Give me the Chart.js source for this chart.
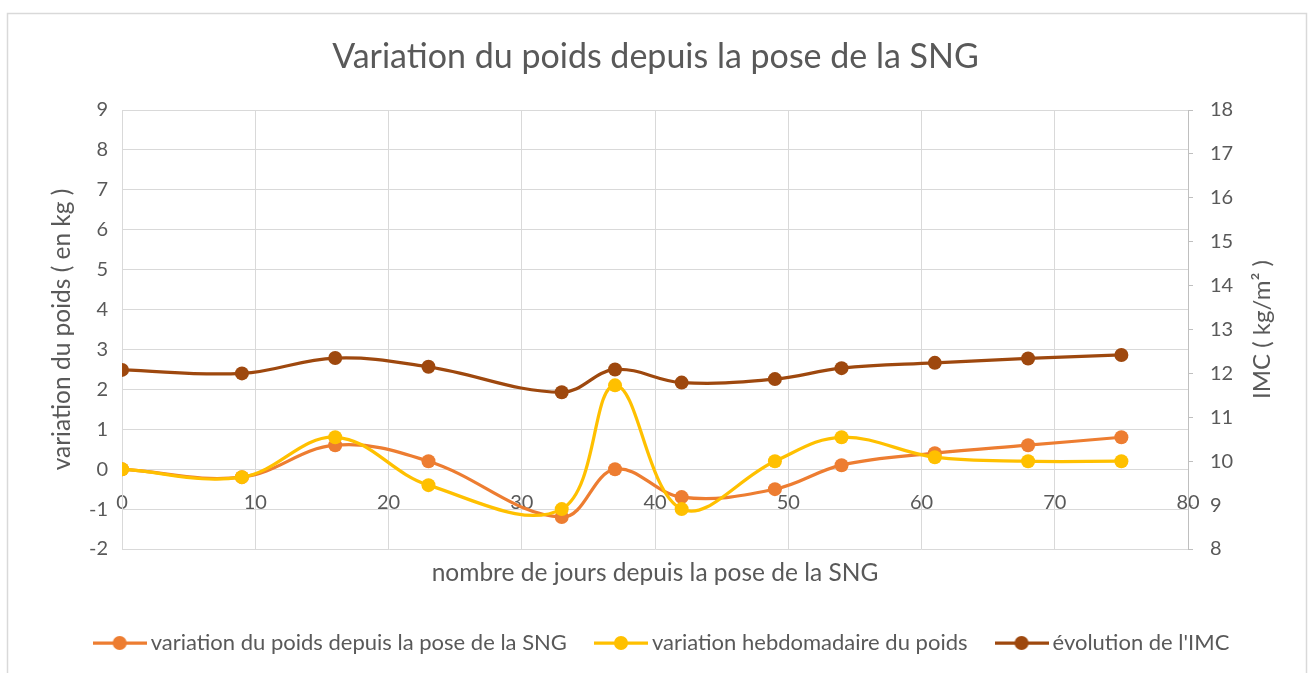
<!DOCTYPE html>
<html>
<head>
<meta charset="utf-8">
<script src="https://cdn.jsdelivr.net/npm/chart.js@4.4.1/dist/chart.umd.min.js"></script>
<style>
  html, body { margin: 0; padding: 0; background: #fff; }
  #wrap { width: 1311px; height: 673px; }
</style>
</head>
<body>
<div id="wrap"><canvas id="myChart" width="1311" height="673"></canvas></div>
<script>
// days since the tube was placed
const jours = [0, 9, 16, 23, 33, 37, 42, 49, 54, 61, 68, 75];
// kg, cumulative change
const variationPoids = [0, -0.2, 0.6, 0.2, -1.2, 0, -0.7, -0.5, 0.1, 0.4, 0.6, 0.8];
// kg, week to week
const variationHebdo = [0, -0.2, 0.8, -0.4, -1.0, 2.1, -1.0, 0.2, 0.8, 0.3, 0.2, 0.2];
// BMI, right axis
const imc = [12.08, 12.0, 12.35, 12.15, 11.57, 12.09, 11.79, 11.87, 12.12, 12.24, 12.34, 12.42];

const seriesNames = [
    'variation du poids depuis la pose de la SNG',
    'variation hebdomadaire du poids',
    "évolution de l'IMC"
];
const colors = ['#ED7D31', '#FFC000', '#9E480E'];

const FONT = 'Lato, Calibri, Carlito, sans-serif';
const GREY = '#595959';

function toPoints(ys) {
    return jours.map((x, i) => ({ x: x, y: ys[i] }));
}

// legend symbol: short line with a dot in the middle
function legendSymbol(color) {
    const c = document.createElement('canvas');
    c.width = 54; c.height = 16;
    const ctx = c.getContext('2d');
    ctx.strokeStyle = color;
    ctx.lineWidth = 3.25;
    ctx.beginPath();
    ctx.moveTo(0, 8); ctx.lineTo(54, 8);
    ctx.stroke();
    ctx.fillStyle = color;
    ctx.beginPath();
    ctx.arc(27, 8, 7, 0, Math.PI * 2);
    ctx.fill();
    return c;
}

function makeDataset(i, ys, axis, order) {
    return {
        label: seriesNames[i],
        data: toPoints(ys),
        yAxisID: axis,
        showLine: true,
        borderColor: colors[i],
        backgroundColor: colors[i],
        borderWidth: 3.25,
        pointRadius: 7,
        pointHoverRadius: 7,
        pointBorderWidth: 0,
        tension: 0.38,
        order: order
    };
}

// outer frame of the chart
const framePlugin = {
    id: 'frame',
    beforeDraw(chart) {
        const ctx = chart.ctx;
        ctx.save();
        ctx.fillStyle = '#fff';
        ctx.fillRect(0, 0, chart.width, chart.height);
        ctx.strokeStyle = '#d9d9d9';
        ctx.lineWidth = 1.5;
        ctx.strokeRect(7.5, 13.5, 1299, 700);
        ctx.restore();
    }
};

// wide gaps between legend items, but keep the legend box short
const legendHeightPlugin = {
    id: 'legendHeight',
    afterInit(chart) {
        const legend = chart.legend;
        const fit = legend.fit;
        const draw = legend.draw;
        legend.fit = function () {
            fit.call(this);
            this.height = 66;
        };
        legend.draw = function () {
            this.ctx.save();
            this.ctx.translate(9, 0);
            draw.call(this);
            this.ctx.restore();
        };
    }
};

// right axis title, reading upward like the left one
const rightTitlePlugin = {
    id: 'rightTitle',
    afterDraw(chart) {
        const a = chart.chartArea;
        const ctx = chart.ctx;
        ctx.save();
        ctx.translate(1262, (a.top + a.bottom) / 2);
        ctx.rotate(-Math.PI / 2);
        ctx.font = '24px ' + FONT;
        ctx.fillStyle = GREY;
        ctx.textAlign = 'center';
        ctx.textBaseline = 'middle';
        ctx.fillText('IMC ( kg/m² )', 0, 0);
        ctx.restore();
    }
};

new Chart(document.getElementById('myChart'), {
    type: 'scatter',
    data: {
        datasets: [
            makeDataset(0, variationPoids, 'y', 3),
            makeDataset(1, variationHebdo, 'y', 2),
            makeDataset(2, imc, 'y2', 1)
        ]
    },
    options: {
        responsive: false,
        animation: false,
        layout: { padding: { left: 10, right: 10, top: 13, bottom: 9 } },
        plugins: {
            tooltip: { enabled: false },
            title: {
                display: true,
                text: 'Variation du poids depuis la pose de la SNG',
                color: GREY,
                font: { family: FONT, size: 34, weight: 'normal' },
                padding: { top: 23.6, bottom: 32.6 }
            },
            legend: {
                position: 'bottom',
                labels: {
                    color: GREY,
                    font: { family: FONT, size: 22 },
                    usePointStyle: true,
                    pointStyleWidth: 40,
                    padding: 34,
                    sort: (a, b) => a.datasetIndex - b.datasetIndex,
                    generateLabels(chart) {
                        const items = Chart.defaults.plugins.legend.labels.generateLabels(chart);
                        items.forEach(it => { it.pointStyle = legendSymbol(colors[it.datasetIndex]); });
                        return items;
                    }
                }
            }
        },
        scales: {
            x: {
                type: 'linear',
                position: { y: 0 },
                min: 0, max: 80,
                ticks: { stepSize: 10, color: GREY, font: { family: FONT, size: 20 }, padding: 21 },
                grid: { color: '#d9d9d9', drawTicks: false },
                border: { color: '#d9d9d9' }
            },
            x2: {
                type: 'linear',
                axis: 'x',
                position: 'bottom',
                min: 0, max: 80,
                ticks: { display: false },
                grid: { display: false, drawTicks: false },
                border: { display: false },
                title: {
                    display: true,
                    text: 'nombre de jours depuis la pose de la SNG',
                    color: GREY,
                    font: { family: FONT, size: 24.5 },
                    padding: { top: 9.3, bottom: 10.3 }
                }
            },
            y: {
                position: 'left',
                min: -2, max: 9,
                ticks: { stepSize: 1, color: GREY, font: { family: FONT, size: 20 }, padding: 14 },
                grid: { color: '#d9d9d9', drawTicks: false },
                border: { color: '#d9d9d9' },
                title: {
                    display: true,
                    text: 'variation du poids ( en kg )',
                    color: GREY,
                    font: { family: FONT, size: 24.5 },
                    padding: { top: 37, bottom: 0 }
                },
                afterFit(scale) { scale.width = 112; }
            },
            y2: {
                position: 'right',
                min: 8, max: 18,
                ticks: { stepSize: 1, color: GREY, font: { family: FONT, size: 20 }, padding: 17 },
                grid: { drawOnChartArea: false, color: '#bfbfbf', tickLength: 5 },
                border: { color: '#bfbfbf' },
                afterFit(scale) { scale.width = 113; }
            }
        }
    },
    plugins: [framePlugin, legendHeightPlugin, rightTitlePlugin]
});
</script>
</body>
</html>
